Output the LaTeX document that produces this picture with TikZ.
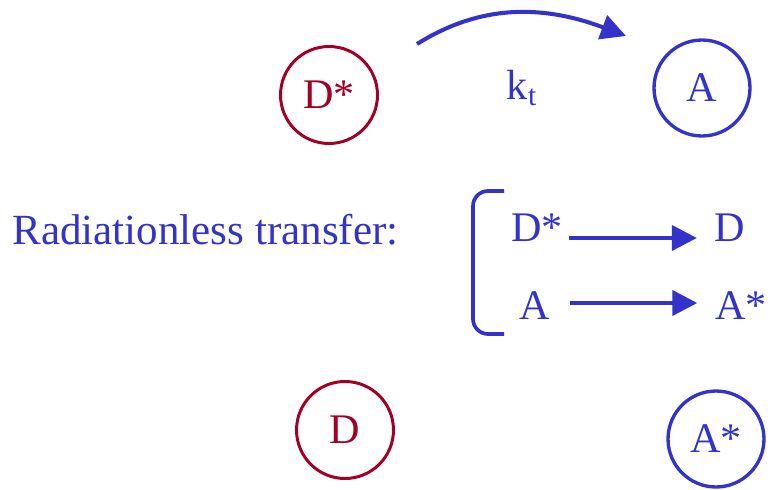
\documentclass[tikz,border=0pt]{standalone}
\usepackage{fontspec}
\setmainfont{Liberation Serif}
\usepackage{xcolor}
\usepackage{tikz}
\usetikzlibrary{arrows.meta,positioning}
\definecolor{rtblue}{RGB}{51,51,204}
\definecolor{rtred}{RGB}{163,0,38}
\tikzset{
  rtdon/.style   = {circle, draw=rtred, line width=1.7pt, text=rtred,
                    minimum size=1.94cm, inner sep=0pt, font=\fontsize{24}{28}\selectfont},
  rtacc/.style   = {circle, draw=rtblue, line width=1.9pt, text=rtblue,
                    minimum size=1.92cm, inner sep=0pt, font=\fontsize{24}{28}\selectfont},
  rtlbl/.style   = {text=rtblue, inner sep=0pt, font=\fontsize{24}{28}\selectfont},
  rtflow/.style  = {-{Triangle[length=0.5cm,width=0.5cm]}, draw=rtblue, line width=2.3pt},
  rtbrk/.style   = {draw=rtblue, line width=2.1pt, rounded corners=0.3cm},
}
\begin{document}
\begin{tikzpicture}[x=0.02cm,y=-0.02cm]
  \useasboundingbox (0,0) rectangle (771,490);

  % molecules before and after
  \node[rtdon] (dstar) at (329,95)  {D*};
  \node[rtacc] (acc)   at (702,88)  {A};
  \node[rtdon] (don)   at (345,430) {D};
  \node[rtacc] (astar) at (716,439) {A*};

  % energy hop
  \coordinate (hopfrom) at (417,44);
  \coordinate (hopto)   at (626,36);
  \draw[rtflow] (hopfrom) .. controls (465,14) and (525,-2) .. (hopto);
  \node[rtlbl] (kt) at (522,88) {k\textsubscript{t}};

  % scheme
  \node[rtlbl, anchor=west, font=\fontsize{24.5}{28}\selectfont] (title) at (12,230) {Radiationless transfer:};
  \node[rtlbl] (rdstar) at (537,228) {D*};
  \node[rtlbl] (rd)     at (730,228) {D};
  \node[rtlbl] (ra)     at (535,306) {A};
  \node[rtlbl] (rastar) at (741,306) {A*};
  \draw[rtbrk] (504,191) -- (473,191) -- (473,334) -- (504,334);

  \draw[rtflow, shorten <=3.5pt, shorten >=10pt] ([yshift=-0.2cm]rdstar.east) -- ([yshift=-0.2cm]rd.west);
  \draw[rtflow, shorten <=10.8pt, shorten >=10pt] ([yshift=0.06cm]ra.east) -- ([yshift=0.06cm]rastar.west);
\end{tikzpicture}
\end{document}
